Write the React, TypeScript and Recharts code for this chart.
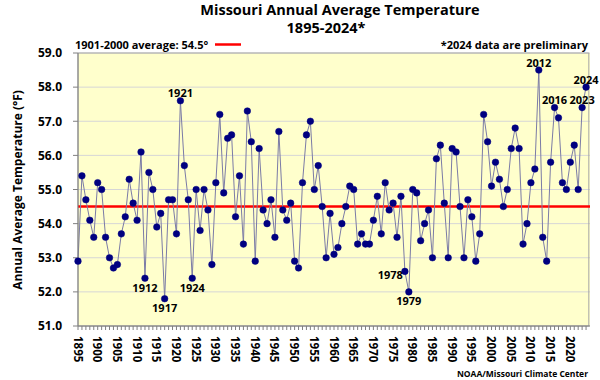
import { CartesianGrid, LabelList, Line, LineChart, ReferenceArea, ReferenceLine, XAxis, YAxis } from "recharts";

const firstYear = 1895;
const lastLabelYear = 2020;
const avg19012000 = 54.5;

// Missouri annual average temperature (°F), 1895-2024
const temps = [
  52.9, 55.4, 54.7, 54.1, 53.6, 55.2, 55.0, 53.6, 53.0, 52.7,
  52.8, 53.7, 54.2, 55.3, 54.6, 54.1, 56.1, 52.4, 55.5, 55.0,
  53.9, 54.3, 51.8, 54.7, 54.7, 53.7, 57.6, 55.7, 54.7, 52.4,
  55.0, 53.8, 55.0, 54.4, 52.8, 55.2, 57.2, 54.9, 56.5, 56.6,
  54.2, 55.4, 53.4, 57.3, 56.4, 52.9, 56.2, 54.4, 54.0, 54.7,
  53.6, 56.7, 54.4, 54.1, 54.6, 52.9, 52.7, 55.2, 56.6, 57.0,
  55.0, 55.7, 54.5, 53.0, 54.3, 53.1, 53.3, 54.0, 54.5, 55.1,
  55.0, 53.4, 53.7, 53.4, 53.4, 54.1, 54.8, 53.7, 55.2, 54.4,
  54.6, 53.6, 54.8, 52.6, 52.0, 55.0, 54.9, 53.5, 54.0, 54.4,
  53.0, 55.9, 56.3, 54.6, 53.0, 56.2, 56.1, 54.5, 53.0, 54.7,
  54.2, 52.9, 53.7, 57.2, 56.4, 55.1, 55.8, 55.3, 54.5, 55.0,
  56.2, 56.8, 56.2, 53.4, 54.0, 55.2, 55.6, 58.5, 53.6, 52.9,
  55.8, 57.4, 57.1, 55.2, 55.0, 55.8, 56.3, 55.0, 57.4, 58.0,
];
const years = temps.map((_, i) => firstYear + i);
const yTicks = [51, 52, 53, 54, 55, 56, 57, 58, 59];

const notedYears = [1912, 1917, 1921, 1924, 1978, 1979, 2012, 2016, 2023, 2024];
const noteSide: Record<number, string> = {
  1912: "below", 1917: "below", 1921: "above", 1924: "below", 1978: "left",
  1979: "below", 2012: "above", 2016: "above", 2023: "above", 2024: "above",
};

const data = years.map((year, i) => ({
  year,
  temp: temps[i],
  note: notedYears.includes(year) ? year : null,
}));

const FONT = "'Open Sans', 'Liberation Sans', sans-serif";
const X_MAX = 2024.7;

function YearTick({ x, y, payload }: any) {
  const yr = payload.value;
  if ((yr - firstYear) % 5 !== 0 || yr > lastLabelYear) return <g />;
  return (
    <text
      transform={`translate(${x},${y + 4}) rotate(90)`}
      textAnchor="start"
      dominantBaseline="central"
      fontFamily={FONT}
      fontSize={11.5}
      fontWeight="bold"
      fill="#000"
    >
      {yr}
    </text>
  );
}

function renderNote(props: any) {
  const { x, y, value } = props;
  if (!value) return null;
  const side = noteSide[value];
  let tx = x;
  let ty = y;
  let anchor = "middle";
  if (side === "above") ty = y - 8;
  else if (side === "below") ty = y + 9;
  else {
    tx = x - 2;
    ty = y + 3;
    anchor = "end";
  }
  return (
    <text
      key={`n${value}`}
      x={tx}
      y={ty}
      textAnchor={anchor}
      dominantBaseline="central"
      fontFamily={FONT}
      fontSize={11}
      fontWeight="bold"
      fill="#000"
    >
      {value}
    </text>
  );
}

export default function App() {
  return (
    <div style={{ position: "absolute", left: 0, top: 0, width: 600, height: 380, background: "#fff", fontFamily: FONT }}>
      <LineChart width={600} height={380} data={data} margin={{ top: 53, right: 10, bottom: 0, left: 0 }}>
        <CartesianGrid horizontal vertical={false} stroke="#d6d6d6" fill="#FFFFCC" />
        <ReferenceArea x1={firstYear} x2={X_MAX} y1={51} y2={59} fill="none" stroke="#a6a6a6" strokeWidth={1} />
        <XAxis
          dataKey="year"
          type="number"
          domain={[firstYear, X_MAX]}
          ticks={years}
          interval={0}
          height={54}
          tickSize={4}
          tickMargin={2}
          stroke="#808080"
          tick={<YearTick />}
          allowDecimals={false}
        />
        <YAxis
          type="number"
          domain={[51, 59]}
          ticks={yTicks}
          width={78}
          tickSize={5}
          tickMargin={11}
          stroke="#808080"
          tickFormatter={(v: number) => v.toFixed(1)}
          tick={{ fill: "#000", fontSize: 12, fontWeight: "bold", fontFamily: FONT }}
        />
        <ReferenceLine y={avg19012000} stroke="#ff0000" strokeWidth={2.5} />
        <Line
          dataKey="temp"
          type="linear"
          stroke="#7b7ba6"
          strokeWidth={1}
          dot={{ r: 3.3, fill: "#000080", stroke: "#000080", strokeWidth: 0.5 }}
          activeDot={false}
          isAnimationActive={false}
        >
          <LabelList dataKey="note" content={renderNote} />
        </Line>
      </LineChart>
      <svg width={600} height={380} style={{ position: "absolute", left: 0, top: 0, pointerEvents: "none" }}>
        <text x={340} y={15} textAnchor="middle" fontFamily={FONT} fontSize={14.5} fontWeight="bold" fill="#000">
          Missouri Annual Average Temperature
        </text>
        <text x={326} y={33} textAnchor="middle" fontFamily={FONT} fontSize={14.5} fontWeight="bold" fill="#000">
          1895-2024*
        </text>
        <text x={75} y={49} fontFamily={FONT} fontSize={11} fontWeight="bold" fill="#000">
          1901-2000 average: 54.5°
        </text>
        <line x1={215} x2={241} y1={44.5} y2={44.5} stroke="#ff0000" strokeWidth={2.5} />
        <text x={588} y={49} textAnchor="end" fontFamily={FONT} fontSize={11} fontWeight="bold" fill="#000">
          *2024 data are preliminary
        </text>
        <text
          transform="translate(22,190) rotate(-90)"
          textAnchor="middle"
          fontFamily={FONT}
          fontSize={12}
          fontWeight="bold"
          fill="#000"
        >
          Annual Average Temperature (°F)
        </text>
        <text x={588} y={377} textAnchor="end" fontFamily={FONT} fontSize={8.5} fontWeight="bold" fill="#000">
          NOAA/Missouri Climate Center
        </text>
      </svg>
    </div>
  );
}
